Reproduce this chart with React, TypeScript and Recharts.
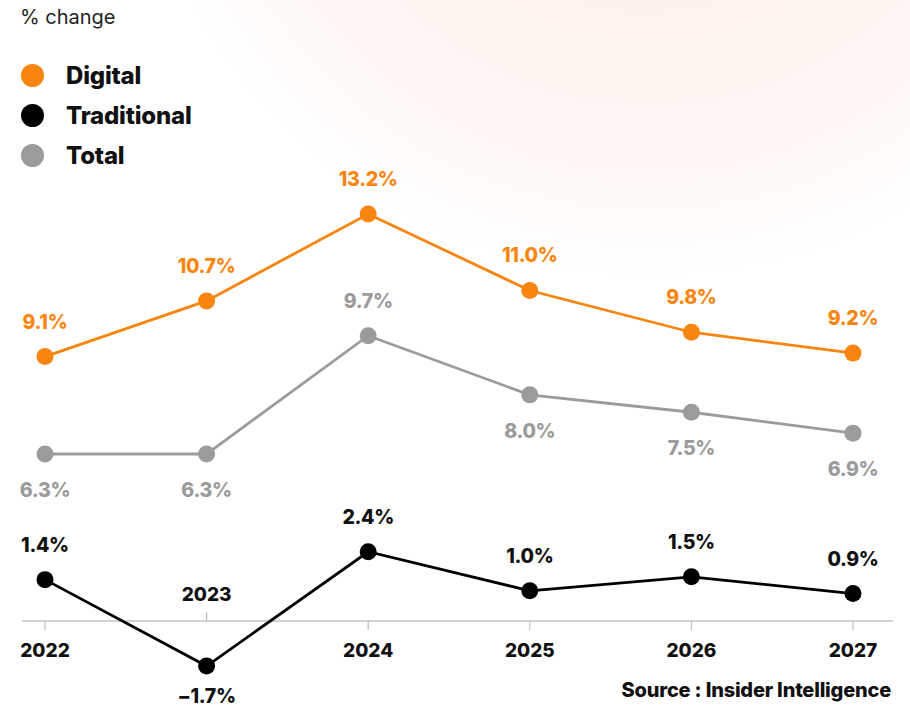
import React from 'react';
import { LineChart, Line, XAxis, YAxis, LabelList } from 'recharts';

const YEARS = ['2022', '2023', '2024', '2025', '2026', '2027'];
const DIGITAL = [9.1, 10.7, 13.2, 11.0, 9.8, 9.2];
const TRADITIONAL = [1.4, -1.7, 2.4, 1.0, 1.5, 0.9];
const TOTAL = [6.3, 6.3, 9.7, 8.0, 7.5, 6.9];

const ORANGE = '#f7850f';
const GRAY = '#9b9b9b';
const BLACK = '#000000';
const FONT = 'Inter, "Noto Sans", sans-serif';

const W = 910;
const H = 709;
const MARGIN_X = { left: 22, right: 17 };
const X_PAD = { left: 23, right: 40 };

const data = YEARS.map((year, i) => ({
  year,
  digital: DIGITAL[i],
  traditional: TRADITIONAL[i],
  total: TOTAL[i],
}));

function YearTick(props: any) {
  const { x, y, payload, index } = props;
  const flip = TRADITIONAL[index] < 0;
  return (
    <g>
      <line x1={x} x2={x} y1={y} y2={flip ? y - 9 : y + 9} stroke="#bdbdbd" strokeWidth={1.2} />
      <text
        x={x}
        y={flip ? y - 20 : y + 36}
        textAnchor="middle"
        fontFamily={FONT}
        fontWeight={800}
        fontSize={19}
        fill="#111"
      >
        {payload.value}
      </text>
    </g>
  );
}

// label placement decided from the series values; downGap = distance below the dot
function makeLabel(color: string, values: number[], placement: (i: number) => 'up' | 'down', downGap = 43) {
  return (props: any) => {
    const { x, y, index } = props;
    const up = placement(index) === 'up';
    const v = values[index];
    const txt = (v < 0 ? '\u2212' : '') + Math.abs(v).toFixed(1) + '%';
    return (
      <text
        x={x}
        y={up ? y - 28 : y + downGap}
        textAnchor="middle"
        fontFamily={FONT}
        fontWeight={800}
        fontSize={19.5}
        letterSpacing={-0.3}
        fill={color}
      >
        {txt}
      </text>
    );
  };
}

const isPeak = (vals: number[], i: number) =>
  (i === 0 || vals[i] > vals[i - 1]) && (i === vals.length - 1 || vals[i] > vals[i + 1]);

const LegendItem = ({ color, label, top }: { color: string; label: string; top: number }) => (
  <div style={{ position: 'absolute', left: 21, top, display: 'flex', alignItems: 'center', height: 24 }}>
    <span style={{ width: 23, height: 23, borderRadius: '50%', background: color, display: 'inline-block' }} />
    <span style={{ marginLeft: 22, fontFamily: FONT, fontWeight: 800, fontSize: 24, color: '#111', letterSpacing: -0.2 }}>
      {label}
    </span>
  </div>
);

export default function App() {
  return (
    <div style={{ position: 'relative', width: W, height: H, overflow: 'hidden', background: '#fff' }}>
      <style>{'body{margin:0}'}</style>
      <div
        style={{
          position: 'absolute',
          left: 125,
          top: -775,
          width: 1050,
          height: 1050,
          borderRadius: '50%',
          background:
            'radial-gradient(circle closest-side, #fbe9e1 0%, #fdf2ee 50%, #fef7f4 80%, rgba(255,255,255,0) 100%)',
        }}
      />
      <div style={{ position: 'absolute', left: 20, top: 5, fontFamily: FONT, fontSize: 20, color: '#222' }}>% change</div>
      <LegendItem color={ORANGE} label="Digital" top={63} />
      <LegendItem color={BLACK} label="Traditional" top={103} />
      <LegendItem color={GRAY} label="Total" top={143} />

      <div style={{ position: 'absolute', left: 0, top: 0 }}>
        <LineChart width={W} height={H} data={data} margin={{ top: 0, right: MARGIN_X.right, bottom: 58, left: MARGIN_X.left }}>
          <XAxis
            dataKey="year"
            height={30}
            padding={X_PAD}
            axisLine={{ stroke: '#c4c4c4', strokeWidth: 1.5 }}
            tickLine={false}
            tickSize={0}
            tickMargin={0}
            interval={0}
            tick={<YearTick />}
          />
          <YAxis hide domain={[1.5, 19.35]} allowDataOverflow />
          <Line
            dataKey="total"
            stroke={GRAY}
            strokeWidth={2.8}
            dot={{ r: 8.5, fill: GRAY, stroke: 'none' }}
            activeDot={false}
            isAnimationActive={false}
          >
            <LabelList content={makeLabel(GRAY, TOTAL, (i) => (isPeak(TOTAL, i) ? 'up' : 'down'), 43)} />
          </Line>
          <Line
            dataKey="digital"
            stroke={ORANGE}
            strokeWidth={2.8}
            dot={{ r: 8.5, fill: ORANGE, stroke: 'none' }}
            activeDot={false}
            isAnimationActive={false}
          >
            <LabelList content={makeLabel(ORANGE, DIGITAL, () => 'up')} />
          </Line>
        </LineChart>
      </div>

      <div style={{ position: 'absolute', left: 0, top: 0 }}>
        <LineChart width={W} height={H} data={data} margin={{ top: 0, right: MARGIN_X.right, bottom: 0, left: MARGIN_X.left }}>
          <XAxis dataKey="year" hide padding={X_PAD} />
          <YAxis hide domain={[-3.24, 22.19]} allowDataOverflow />
          <Line
            dataKey="traditional"
            stroke={BLACK}
            strokeWidth={2.8}
            dot={{ r: 8.5, fill: BLACK, stroke: 'none' }}
            activeDot={false}
            isAnimationActive={false}
          >
            <LabelList content={makeLabel('#111', TRADITIONAL, (i) => (TRADITIONAL[i] < 0 ? 'down' : 'up'), 37)} />
          </Line>
        </LineChart>
      </div>

      <div
        style={{
          position: 'absolute',
          right: 19,
          top: 678,
          fontFamily: FONT,
          fontWeight: 800,
          fontSize: 20,
          color: '#111',
          letterSpacing: -0.2,
        }}
      >
        Source : Insider Intelligence
      </div>
    </div>
  );
}
